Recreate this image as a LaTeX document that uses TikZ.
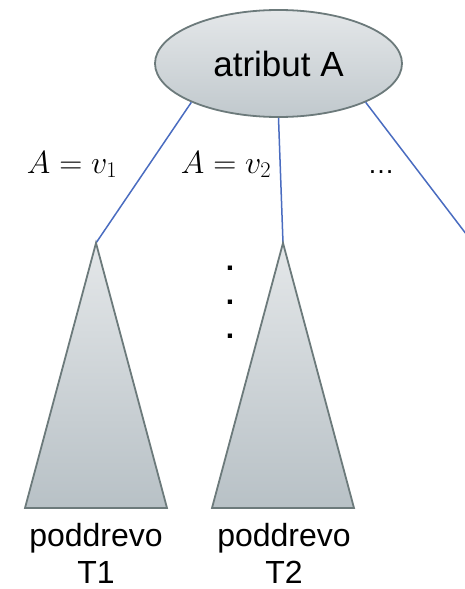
\documentclass[tikz,border=0pt]{standalone}
\usepackage{fix-cm}
\usepackage{amsmath}
\usepackage{fontspec}
\setmainfont{Liberation Sans}
\usetikzlibrary{shapes.geometric}
\definecolor{edgeblue}{HTML}{4A6CC0}
\definecolor{shapeline}{HTML}{6C7A7B}
\definecolor{filltop}{HTML}{E4E7E9}
\definecolor{fillbot}{HTML}{B8C1C6}

\begin{document}
\begin{tikzpicture}[x=1pt,y=-1pt,
		attrnode/.style={ellipse,draw=shapeline,line width=1.8pt,top color=filltop,bottom color=fillbot!80!filltop,minimum width=247pt,minimum height=107pt,inner sep=0pt,font=\fontsize{35}{40}\selectfont},
		subtree/.style={draw=shapeline,line width=1.8pt,top color=filltop,bottom color=fillbot},
		branch/.style={draw=edgeblue,line width=1.5pt},
		valuelbl/.style={anchor=base,inner sep=0pt,font=\fontsize{32}{38}\selectfont},
		treelbl/.style={anchor=north,inner sep=0pt,align=center,font=\fontsize{32}{37}\selectfont}]
			\useasboundingbox (0,0) rectangle (464,589);
			\node[attrnode] (attr) at (278.5,63.5) {atribut A};
			\coordinate (t1) at (96,243);
			\coordinate (t2) at (283,243);
			\coordinate (t3) at (473,243);
			\draw[branch] (attr.204) -- (t1);
			\draw[branch] (attr.south) -- (t2);
			\draw[branch] (attr.336) -- (t3);
			\shade[subtree] (t1) -- (167,508) -- (25,508) -- cycle;
			\shade[subtree] (t2) -- (354,508) -- (212,508) -- cycle;
			\node[valuelbl] (v1) at (72,173) {$A = v_1$};
			\node[valuelbl] (v2) at (226,173) {$A = v_2$};
			\node[valuelbl,font=\fontsize{27}{32}\selectfont] (vdots) at (381,173) {…};
			% tri tecke medzi podstromami
			\foreach \i/\y in {1/268,2/302,3/336}
				\node[inner sep=0pt,font=\fontsize{30}{30}\bfseries] (dot\i) at (230,\y) {.};
			\node[treelbl] (sub1) at (96,523) {poddrevo\\T1};
			\node[treelbl] (sub2) at (284,523) {poddrevo\\T2};
		\end{tikzpicture}
\end{document}
